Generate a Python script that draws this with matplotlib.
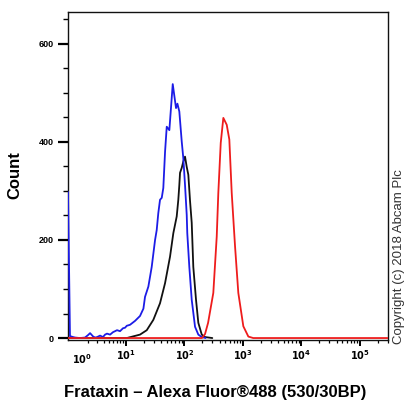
import numpy as np
import matplotlib
matplotlib.use("Agg")
import matplotlib.pyplot as plt

plt.rcParams['font.family'] = ['Liberation Sans', 'DejaVu Sans']

# ---- data (fluorescence value, count) ----
blue_x = [0.40, 0.53, 0.74, 0.88, 1.25, 1.68, 1.97, 2.18, 2.53, 2.77, 3.03, 3.44, 3.90, 4.26,
          4.62, 5.25, 5.92, 6.43, 6.97, 7.86, 8.86, 9.6, 10.3, 11.7, 14.3, 17.4, 19.9, 21.2,
          24.2, 27.6, 31.5, 33.6, 35.8, 38.3, 41.0, 43.6, 46.7, 49.9, 55.3, 63.2, 71.9, 76.0,
          81.9, 90.0, 95.8, 102.5, 109.6, 112, 121.4, 133.4, 152, 173, 198, 230]
blue_y = [298, 4, 2, 1, 0, 1, 6, 10, 3, 1, 2, 5, 2, 7,
          9, 7, 12, 14, 16, 14, 20, 21, 25, 27, 35, 45, 60, 84,
          105, 145, 200, 220, 255, 282, 286, 306, 380, 431, 424, 518, 469, 478,
          462, 401, 367, 312, 251, 214, 145, 78, 23, 7, 2, 0]

black_x = [0.40, 10.3, 17.4, 22.7, 29.4, 38.3, 46.7, 56.8, 64.7, 73.9, 78.7, 81.9, 84.2,
           90.0, 95.8, 102.5, 109.6, 116.7, 124.8, 133.4, 142, 158, 173, 198, 225, 300]
black_y = [0, 0, 7, 16, 37, 71, 112, 166, 214, 248, 282, 312, 337,
           347, 360, 370, 349, 333, 280, 235, 145, 78, 31, 7, 2, 0]

red_x = [0.40, 200, 225, 254, 312, 357, 380, 418, 463, 529, 586, 644, 734, 835, 1017,
         1239, 1500, 302000]
red_y = [0, 0, 8, 31, 92, 207, 296, 398, 449, 435, 405, 296, 187, 92, 24,
         3, 0, 0]

x_major = [10, 100, 1000, 10000, 100000]
x_major_labels = [r'$\mathbf{10^{1}}$', r'$\mathbf{10^{2}}$', r'$\mathbf{10^{3}}$',
                  r'$\mathbf{10^{4}}$', r'$\mathbf{10^{5}}$']
y_major = [0, 200, 400, 600]

# ---- biexponential-like display scale ----
C = 1.6
def fwd(x):
    return np.arcsinh(np.asarray(x, dtype=float) / C) / np.log(10)
def inv(y):
    return C * np.sinh(np.asarray(y, dtype=float) * np.log(10))

fig = plt.figure(figsize=(4.05, 4.07), dpi=100)
ax = fig.add_axes([68/405, 1 - 340/407, 320/405, 328/407])
ax.set_xscale('function', functions=(fwd, inv))

kw = dict(lw=1.3, solid_joinstyle='round', solid_capstyle='round')
ax.plot(black_x, black_y, color='#111111', zorder=2, **kw)
ax.plot(blue_x, blue_y, color='#1c1ce6', zorder=3, **kw)
ax.plot(red_x, red_y, color='#ee1c1c', zorder=4, **kw)

ax.set_xlim(0.40, 302000)
ax.set_ylim(-4, 665)

ax.set_xticks(x_major)
ax.set_xticklabels(x_major_labels, fontsize=7)
minors = [m * d for d in [1, 10, 100, 1000, 10000, 100000] for m in range(2, 10)]
minors = [v for v in minors if v < 302000]
ax.set_xticks(minors, minor=True)
ax.annotate(r'$\mathbf{10^{0}}$', xy=(1, 0), xycoords=('data', 'axes fraction'),
            xytext=(4, -8.5), textcoords='offset points', ha='center', va='top', fontsize=7)

ax.set_yticks(y_major)
ax.set_yticklabels([str(v) for v in y_major], fontsize=6.5, fontweight='bold')
ax.set_yticks(np.arange(50, 660, 50), minor=True)

ax.tick_params(axis='x', which='major', length=4.5, width=1.4, pad=1.5, direction='out')
ax.tick_params(axis='x', which='minor', length=2.5, width=0.9, direction='out')
ax.tick_params(axis='y', which='major', length=7, width=1.6, pad=3, direction='out')
ax.tick_params(axis='y', which='minor', length=3.5, width=1.0, direction='out')

for s in ax.spines.values():
    s.set_linewidth(1.0)
    s.set_color('#111111')

fig.text(215/405, 1 - 393/407, 'Frataxin \u2013 Alexa Fluor\u00ae488 (530/30BP)',
         ha='center', va='center', fontsize=12, fontweight='bold')
fig.text(15/405, 1 - 175/407, 'Count', rotation=90, ha='center', va='center',
         fontsize=12, fontweight='bold')
fig.text(399/405, 1 - 257/407, 'Copyright (c) 2018 Abcam Plc', rotation=90,
         ha='center', va='center', fontsize=9.5, color='#333333')

fig.savefig('out.png', dpi=100)
